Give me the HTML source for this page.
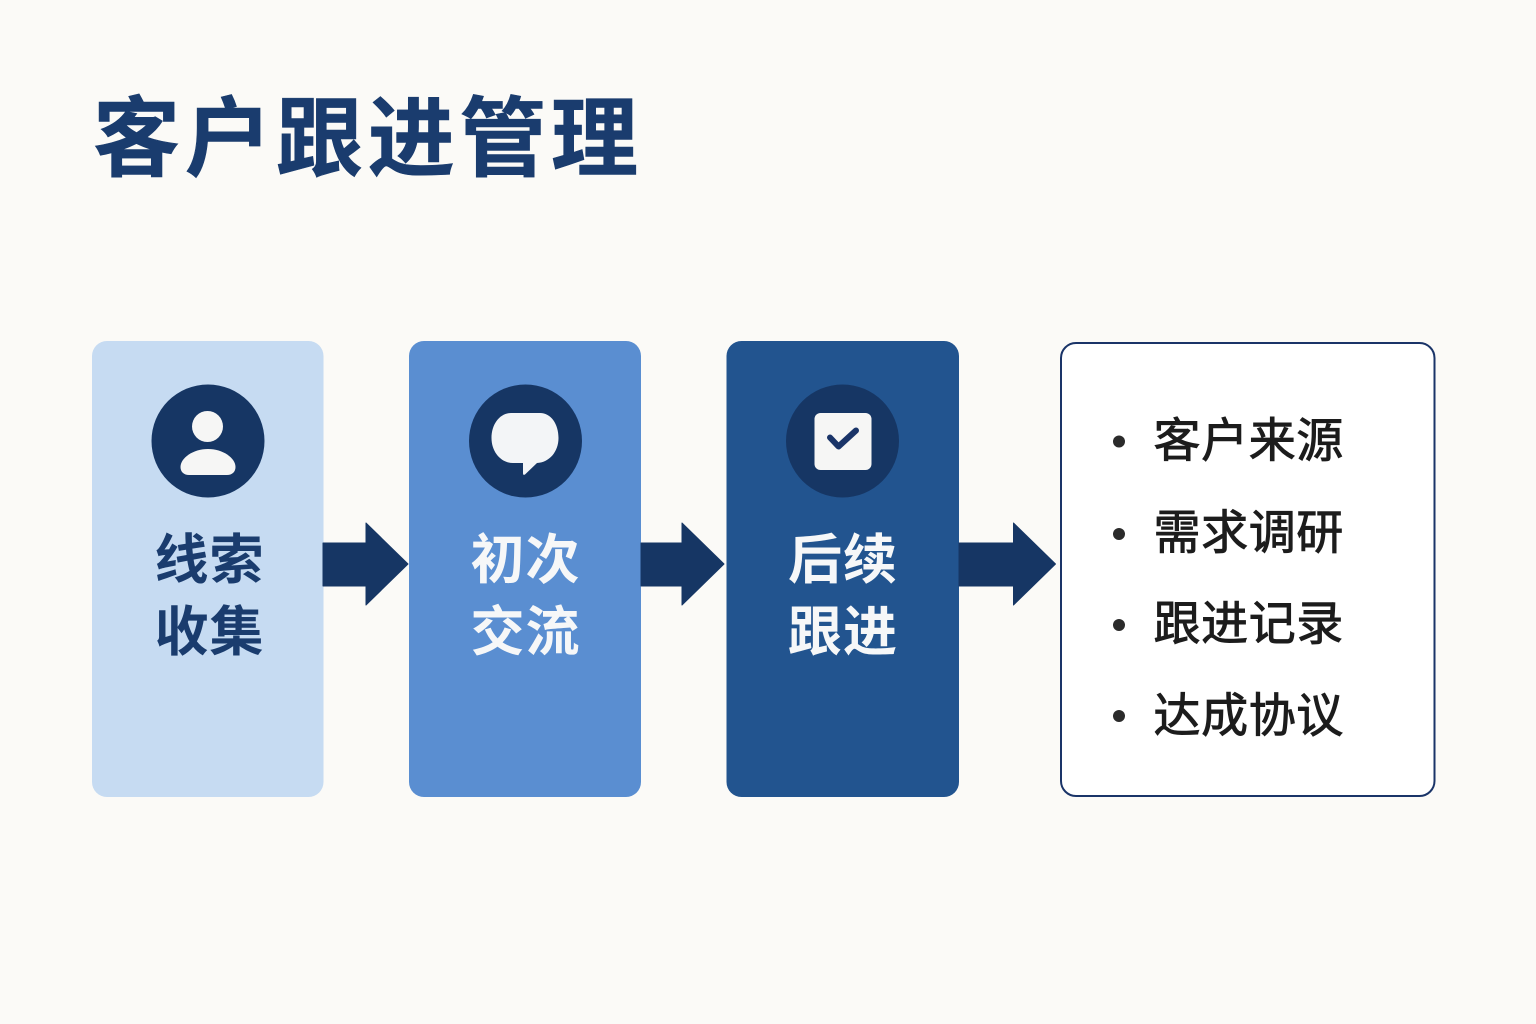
<!DOCTYPE html>
<html lang="zh">
<head>
<meta charset="utf-8">
<style>
html,body{margin:0;padding:0;background:#fbfaf7;}
svg{display:block;}
text{font-family:"Liberation Sans","Noto Sans CJK SC",sans-serif;}
</style>
</head>
<body>
<svg width="1536" height="1024" viewBox="0 0 1536 1024" xmlns="http://www.w3.org/2000/svg">
<rect width="1536" height="1024" fill="#fbfaf7"/>
<text x="93" y="169" font-size="87" font-weight="700" fill="#1a3c6e" stroke="#1a3c6e" stroke-width="0.6" letter-spacing="4.600">客户跟进管理</text>

<rect x="92" y="341" width="231.500" height="456" rx="15" fill="#c6dbf2"/>
<rect x="409" y="341" width="232" height="456" rx="15" fill="#5a8ed1"/>
<rect x="726.500" y="341" width="232.500" height="456" rx="15" fill="#22548f"/>
<rect x="1061" y="343" width="373.500" height="453" rx="15" fill="#fff" stroke="#1a3468" stroke-width="2"/>

<polygon points="323,543 366,543 366,523 408,564 366,605 366,586 323,586" fill="#163664" stroke="#163664" stroke-width="1" stroke-linejoin="round"/>
<polygon points="641,543 682,543 682,523 724,564 682,605 682,586 641,586" fill="#163664" stroke="#163664" stroke-width="1" stroke-linejoin="round"/>
<polygon points="959,543 1013.500,543 1013.500,523 1055.500,564 1013.500,605 1013.500,586 959,586" fill="#163664" stroke="#163664" stroke-width="1" stroke-linejoin="round"/>

<circle cx="208" cy="441" r="56.500" fill="#163664"/>
<circle cx="207.500" cy="426.500" r="15.500" fill="#f6f6f5"/>
<path d="M180.500 467C180.500 458 193 449 208 449C223 449 235.500 458 235.500 467C235.500 472 232 475 227 475H189C184 475 180.500 472 180.500 467Z" fill="#f6f6f5"/>

<circle cx="525.500" cy="441" r="56.500" fill="#163664"/>
<path d="M511 413H540C551 413 558.500 424 558.500 438C558.500 452 549 462.500 537 463L525 474.500C523.500 475.500 523 474.500 523 473V463H513C501 463 491.500 452 491.500 438C491.500 424 500 413 511 413Z" fill="#f3f5f7"/>

<circle cx="842.500" cy="441" r="56.500" fill="#163664"/>
<rect x="814.500" y="413" width="57" height="57" rx="6" fill="#f6f6f5"/>
<path d="M830 437.500L838.500 446.500L856 430.500" fill="none" stroke="#1a3468" stroke-width="6" stroke-linecap="round" stroke-linejoin="round"/>

<g font-size="54" font-weight="700" text-anchor="middle" letter-spacing="1">
<text x="209.500" y="578.500" fill="#1a3c6e">线索</text>
<text x="209.500" y="650.500" fill="#1a3c6e">收集</text>
<text x="525.500" y="578.500" fill="#f6f7f8">初次</text>
<text x="525.500" y="650.500" fill="#f6f7f8">交流</text>
<text x="843" y="578.500" fill="#f6f7f8">后续</text>
<text x="843" y="650.500" fill="#f6f7f8">跟进</text>
</g>

<g fill="#2b2b2b">
<circle cx="1119" cy="441.500" r="6"/>
<circle cx="1119" cy="534" r="6"/>
<circle cx="1119" cy="625" r="6"/>
<circle cx="1119" cy="716" r="6"/>
</g>
<g font-size="47" font-weight="400" fill="#1c1c1c" stroke="#1c1c1c" stroke-width="0.9" letter-spacing="0.600">
<text x="1153.500" y="457">客户来源</text>
<text x="1153.500" y="549">需求调研</text>
<text x="1153.500" y="640">跟进记录</text>
<text x="1153.500" y="732">达成协议</text>
</g>
</svg>
</body>
</html>
